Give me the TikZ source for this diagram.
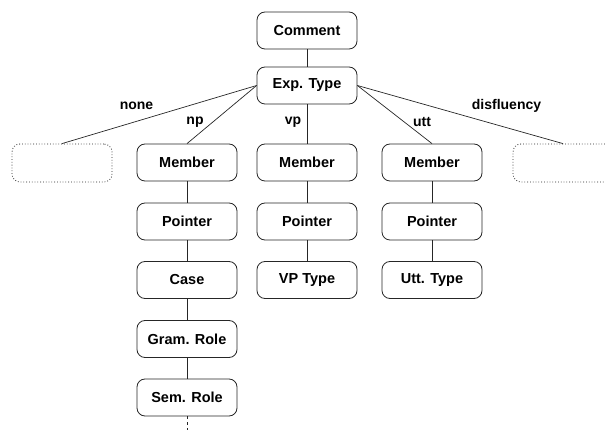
\documentclass[tikz,border=0pt]{standalone}
\usepackage{fontspec}
\setmainfont{Liberation Sans}
\begin{document}
\begin{tikzpicture}[x=1pt,y=-1pt,
  box/.style={draw=black!85, line width=0.8pt, rounded corners=8pt, minimum width=100pt, minimum height=37pt, inner sep=0pt, font=\fontsize{14.5}{17}\selectfont\bfseries},
  ghost/.style={draw=black!85, line width=0.8pt, dotted, rounded corners=8pt, minimum width=100pt, minimum height=38pt, inner sep=0pt},
  lab/.style={font=\fontsize{14}{16}\selectfont\bfseries, inner sep=0pt},
  conn/.style={line width=0.7pt, draw=black!85}]
\useasboundingbox (0,0) rectangle (605,430);
\clip (0,0) rectangle (605,430);
\node[box] (comment) at (307,30.5) {Comment};
\node[box] (exp) at (307,85.5) {Exp. Type};
\node[ghost] (none) at (62,163) {};
\node[ghost] (disf) at (563,163) {};
\node[box] (m1) at (187,162.5) {Member};
\node[box] (m2) at (307,162.5) {Member};
\node[box] (m3) at (432,162.5) {Member};
\node[box] (p1) at (187,221.5) {Pointer};
\node[box] (p2) at (307,221.5) {Pointer};
\node[box] (p3) at (432,221.5) {Pointer};
\node[box] (case) at (187,280) {Case};
\node[box] (vpt) at (307,280) {VP Type};
\node[box] (utt) at (432,280) {Utt. Type};
\node[box] (gram) at (187,339) {Gram. Role};
\node[box] (sem) at (187,397.5) {Sem. Role};
\coordinate (end) at (187,430);
\draw[conn] (comment) -- (exp);
\draw[conn] (exp.west) -- (none.north);
\draw[conn] (exp.west) -- (m1.north);
\draw[conn] (exp) -- (m2);
\draw[conn] (exp.east) -- (m3.north);
\draw[conn] (exp.east) -- (disf.north);
\draw[conn] (m1) -- (p1);
\draw[conn] (p1) -- (case);
\draw[conn] (case) -- (gram);
\draw[conn] (gram) -- (sem);
\draw[conn, dash pattern=on 3pt off 3pt] (sem) -- (end);
\draw[conn] (m2) -- (p2);
\draw[conn] (p2) -- (vpt);
\draw[conn] (m3) -- (p3);
\draw[conn] (p3) -- (utt);
\node[lab] (lnone) at (136.5,106) {none};
\node[lab] (lnp) at (195,122) {np};
\node[lab] (lvp) at (293,122) {vp};
\node[lab] (lutt) at (422,122) {utt};
\node[lab] (ldisf) at (506.5,106) {disfluency};
\end{tikzpicture}
\end{document}
